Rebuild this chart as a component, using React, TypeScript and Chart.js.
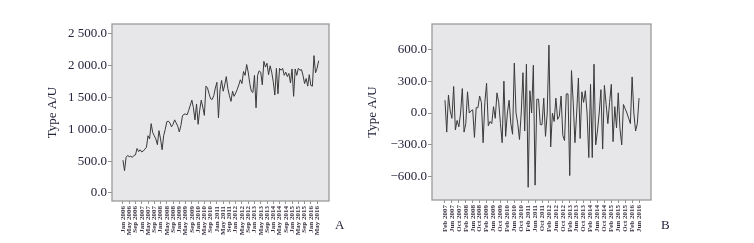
import React, { useEffect, useRef } from 'react';
import { Chart, registerables } from 'chart.js';

Chart.register(...registerables);

// Panel A: monthly series, Jan 2006 – Jun 2016
const seriesA = [
  515, 350, 560, 590, 570, 580, 560, 590, 600, 700,
  650, 680, 645, 660, 690, 720, 900, 850, 1090, 950,
  900, 850, 760, 980, 850, 680, 900, 1000, 1120, 1130,
  1100, 1040, 1080, 1150, 1100, 1050, 960, 1060, 1210, 1240,
  1240, 1230, 1300, 1380, 1460, 1340, 1150, 1400, 1080, 1300,
  1460, 1350, 1220, 1680, 1650, 1560, 1480, 1470, 1530, 1650,
  1740, 1180, 1620, 1770, 1600, 1700, 1830, 1640, 1530, 1440,
  1600, 1520, 1570, 1630, 1700, 1780, 1720, 1910, 1850, 2020,
  1900, 1720, 1600, 1580, 1850, 1340, 1850, 1920, 1900, 1700,
  2070, 1980, 2040, 1860, 2000, 1900, 1750, 1540, 1960, 1560,
  1960, 1930, 1960, 1850, 1900, 1830, 1880, 1730, 1950, 1520,
  1950, 1850, 1960, 1930, 1940, 1850, 1720, 1800, 1680, 1860,
  1690, 1680, 2160, 1890, 1960, 2080,
];

// Panel B: differenced series, Feb 2007 – Jun 2016
const seriesB = [
  120, -180, 170, 20, -50, 250, -160, -70, -130, 0,
  230, -180, -100, 200, 0, 20, 30, -230, 50, 50,
  160, 100, -280, 100, 280, -120, -80, -100, 60, -50,
  190, 100, -100, -280, 300, -220, 0, 120, -100, -200,
  470, 0, -100, -250, 0, 380, -170, 460, -700, 210,
  0, 450, -680, 130, 130, -110, -110, 140, -220, 0,
  640, -320, 0, -80, 140, -60, -30, 160, -210, -260,
  180, 180, -590, 400, 100, -280, 0, 330, -240, 200,
  100, 210, 0, -420, 270, -420, 460, -300, -170, 0,
  220, -340, 260, 80, -100, 100, 270, -270, 60, -140,
  190, -150, -300, 80, 40, 0, -50, -100, 340, 0,
  -170, -100, 140,
];

// Tick labels every 4 months
const tickLabelsA = [
  'Jan 2006', 'May 2006', 'Sep 2006', 'Jan 2007', 'May 2007', 'Sep 2007',
  'Jan 2008', 'May 2008', 'Sep 2008', 'Jan 2009', 'May 2009', 'Sep 2009',
  'Jan 2010', 'May 2010', 'Sep 2010', 'Jan 2011', 'May 2011', 'Sep 2011',
  'Jan 2012', 'May 2012', 'Sep 2012', 'Jan 2013', 'May 2013', 'Sep 2013',
  'Jan 2014', 'May 2014', 'Sep 2014', 'Jan 2015', 'May 2015', 'Sep 2015',
  'Jan 2016', 'May 2016',
];
const tickLabelsB = [
  'Feb 2007', 'Jun 2007', 'Oct 2007', 'Feb 2008', 'Jun 2008', 'Oct 2008',
  'Feb 2009', 'Jun 2009', 'Oct 2009', 'Feb 2010', 'Jun 2010', 'Oct 2010',
  'Feb 2011', 'Jun 2011', 'Oct 2011', 'Feb 2012', 'Jun 2012', 'Oct 2012',
  'Feb 2013', 'Jun 2013', 'Oct 2013', 'Feb 2014', 'Jun 2014', 'Oct 2014',
  'Feb 2015', 'Jun 2015', 'Oct 2015', 'Feb 2016', 'Jun 2016',
];
const yTicksA = [0, 500, 1000, 1500, 2000, 2500];
const yTicksB = [-600, -300, 0, 300, 600];
const yTitle = 'Type A/U';
const TICK_STEP = 4;

function fmt(v: number): string {
  const s = Math.abs(v).toFixed(1);
  const [i, d] = s.split('.');
  const ii = i.replace(/\B(?=(\d{3})+(?!\d))/g, ' ');
  return (v < 0 ? '\u2212' : '') + ii + '.' + d;
}

const plotFrame = {
  id: 'plotFrame',
  beforeDraw(chart: any) {
    const { ctx, chartArea } = chart;
    const { left, top, right, bottom } = chartArea;
    ctx.save();
    ctx.fillStyle = '#e7e7e9';
    ctx.fillRect(left, top, right - left, bottom - top);
    ctx.restore();
  },
  afterDraw(chart: any) {
    const { ctx, chartArea } = chart;
    const { left, top, right, bottom } = chartArea;
    ctx.save();
    ctx.strokeStyle = '#9a9a9a';
    ctx.lineWidth = 1.3;
    ctx.strokeRect(left, top, right - left, bottom - top);
    ctx.restore();
  },
};

interface PanelCfg {
  values: number[];
  tickLabels: string[];
  yTicks: number[];
  xMin: number;
  xMax: number;
  yMin: number;
  yMax: number;
  padLeft: number;
  padRight: number;
  xHeight: number;
}

function buildConfig(p: PanelCfg): any {
  return {
    type: 'line',
    data: {
      datasets: [
        {
          data: p.values.map((v, i) => ({ x: i, y: v })),
          borderColor: '#3a3a3a',
          borderWidth: 1,
          pointRadius: 0,
          tension: 0,
          fill: false,
        },
      ],
    },
    options: {
      responsive: false,
      animation: false,
      devicePixelRatio: 1,
      layout: { padding: { left: p.padLeft, right: p.padRight, top: 24, bottom: 0 } },
      plugins: { legend: { display: false }, tooltip: { enabled: false } },
      scales: {
        x: {
          type: 'linear',
          min: p.xMin,
          max: p.xMax,
          afterBuildTicks: (scale: any) => {
            scale.ticks = p.tickLabels.map((_, k) => ({ value: k * TICK_STEP }));
          },
          afterFit: (scale: any) => {
            scale.height = p.xHeight;
          },
          border: { display: false },
          grid: { drawOnChartArea: false, drawTicks: true, tickLength: 3, color: '#777', lineWidth: 0.8 },
          ticks: {
            autoSkip: false,
            minRotation: 90,
            maxRotation: 90,
            padding: 2,
            color: '#3a3040',
            font: { family: 'Liberation Serif', size: 7, weight: 'bold' },
            callback: (v: number) => {
              const k = Math.round(v / TICK_STEP);
              return p.tickLabels[k] ?? '';
            },
          },
        },
        y: {
          type: 'linear',
          min: p.yMin,
          max: p.yMax,
          afterBuildTicks: (scale: any) => {
            scale.ticks = p.yTicks.map((v) => ({ value: v }));
          },
          afterFit: (scale: any) => {
            scale.width = 67;
          },
          border: { display: false },
          grid: { drawOnChartArea: false, drawTicks: true, tickLength: 4, color: '#777', lineWidth: 0.8 },
          ticks: {
            padding: 1,
            color: '#23233a',
            font: { family: 'Liberation Serif', size: 13 },
            callback: (v: number) => fmt(v),
          },
          title: {
            display: true,
            text: yTitle,
            color: '#23233a',
            padding: 0,
            font: { family: 'Liberation Serif', size: 13 },
          },
        },
      },
    },
    plugins: [plotFrame],
  };
}

function Panel(props: { cfg: PanelCfg; width: number; left: number }) {
  const ref = useRef<HTMLCanvasElement | null>(null);
  useEffect(() => {
    if (!ref.current) return;
    const chart = new Chart(ref.current, buildConfig(props.cfg));
    return () => chart.destroy();
  }, []);
  return (
    <canvas
      ref={ref}
      width={props.width}
      height={243}
      style={{ position: 'absolute', left: props.left, top: 0, width: props.width, height: 243 }}
    />
  );
}

const cfgA: PanelCfg = {
  values: seriesA,
  tickLabels: tickLabelsA,
  yTicks: yTicksA,
  xMin: -7,
  xMax: 131.6,
  yMin: -126,
  yMax: 2657,
  padLeft: 45,
  padRight: 11,
  xHeight: 42,
};

const cfgB: PanelCfg = {
  values: seriesB,
  tickLabels: tickLabelsB,
  yTicks: yTicksB,
  xMin: -7.5,
  xMax: 118.9,
  yMin: -820,
  yMax: 839,
  padLeft: 25,
  padRight: 103,
  xHeight: 43,
};

const letterStyle: React.CSSProperties = {
  position: 'absolute',
  top: 218,
  fontFamily: 'Liberation Serif',
  fontSize: 13,
  color: '#23233a',
  lineHeight: '14px',
};

export default function App() {
  return (
    <div style={{ position: 'fixed', left: 0, top: 0, width: 754, height: 243, background: '#fff', overflow: 'hidden' }}>
      <Panel cfg={cfgA} width={340} left={0} />
      <Panel cfg={cfgB} width={414} left={340} />
      <div style={{ ...letterStyle, left: 335 }}>A</div>
      <div style={{ ...letterStyle, left: 661 }}>B</div>
    </div>
  );
}
